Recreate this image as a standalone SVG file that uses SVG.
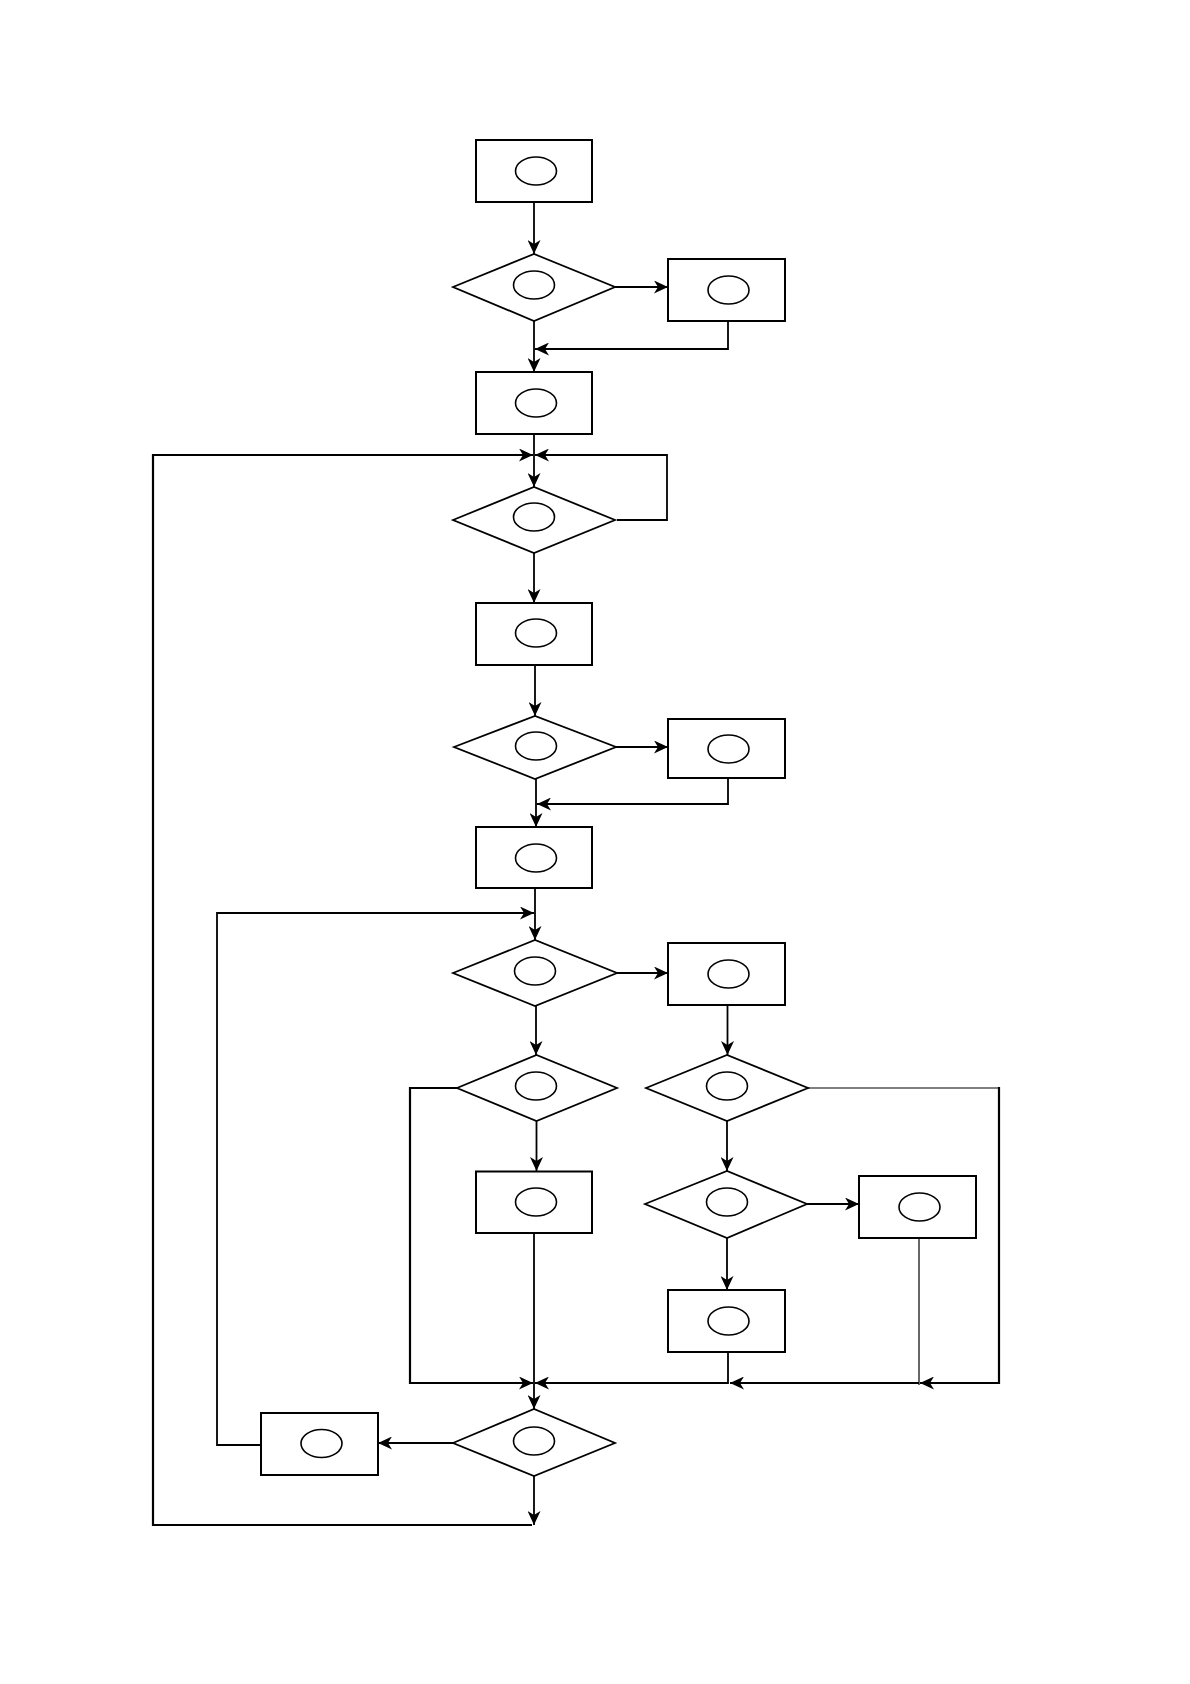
<svg xmlns="http://www.w3.org/2000/svg" width="1190" height="1684" viewBox="0 0 1190 1684">
<style>
.box{fill:#fff;stroke:#000;stroke-width:2}
.dec{fill:#fff;stroke:#000;stroke-width:1.8}
.ell{fill:none;stroke:#000;stroke-width:1.6}
.ln{fill:none;stroke:#000;stroke-width:1.8}
.thin{fill:none;stroke:#000;stroke-width:1.2}
</style>
<defs>
<marker id="ah" markerUnits="userSpaceOnUse" markerWidth="15" markerHeight="13" refX="14" refY="6.5" orient="auto">
<path d="M0,0 L14,6.5 L0,13 L4,6.5 z" fill="#000"/>
</marker>
</defs>
<rect width="1190" height="1684" fill="#fff"/>
<g id="connectors">
<line class="ln" x1="534" y1="202" x2="534" y2="254" marker-end="url(#ah)"/>
<line class="ln" x1="615" y1="287" x2="668" y2="287" marker-end="url(#ah)"/>
<line class="ln" x1="534" y1="321" x2="534" y2="372" marker-end="url(#ah)"/>
<polyline class="ln" points="728,321 728,349 535,349" marker-end="url(#ah)"/>
<line class="ln" x1="534" y1="434" x2="534" y2="487" marker-end="url(#ah)"/>
<line class="ln" x1="534" y1="1476" x2="534" y2="1525" marker-end="url(#ah)"/>
<polyline class="ln" points="532,1525 153,1525 153,455 533,455" style="stroke-width:2.2" marker-end="url(#ah)"/>
<polyline class="ln" points="617,520 667,520 667,455 535,455" marker-end="url(#ah)"/>
<line class="ln" x1="534" y1="553" x2="534" y2="603" marker-end="url(#ah)"/>
<line class="ln" x1="535" y1="665" x2="535" y2="716" marker-end="url(#ah)"/>
<line class="ln" x1="616" y1="747" x2="668" y2="747" marker-end="url(#ah)"/>
<line class="ln" x1="536" y1="779" x2="536" y2="827" marker-end="url(#ah)"/>
<polyline class="ln" points="728,778 728,804 537,804" marker-end="url(#ah)"/>
<line class="ln" x1="535" y1="888" x2="535" y2="940" marker-end="url(#ah)"/>
<polyline class="ln" points="261,1445 217,1445 217,913 534,913" marker-end="url(#ah)"/>
<line class="ln" x1="617" y1="973" x2="668" y2="973" marker-end="url(#ah)"/>
<line class="ln" x1="536" y1="1006" x2="536" y2="1055" marker-end="url(#ah)"/>
<line class="ln" x1="727.5" y1="1005" x2="727.5" y2="1055" marker-end="url(#ah)"/>
<polyline class="ln" points="457,1088 410,1088 410,1383 533,1383" style="stroke-width:2.2" marker-end="url(#ah)"/>
<line class="ln" x1="536.5" y1="1121" x2="536.5" y2="1171" marker-end="url(#ah)"/>
<line class="ln" x1="534" y1="1233" x2="534" y2="1409" marker-end="url(#ah)"/>
<line class="ln" x1="727" y1="1121" x2="727" y2="1171" marker-end="url(#ah)"/>
<line class="ln" x1="807" y1="1204" x2="859" y2="1204" marker-end="url(#ah)"/>
<line class="ln" x1="727" y1="1238" x2="727" y2="1290" marker-end="url(#ah)"/>
<polyline class="thin" points="808,1088 999,1088"/>
<polyline class="ln" points="999,1087 999,1383 920,1383" style="stroke-width:2.2" marker-end="url(#ah)"/>
<line class="thin" x1="919" y1="1238" x2="919" y2="1385"/>
<line class="ln" x1="919" y1="1383" x2="730" y2="1383" marker-end="url(#ah)"/>
<polyline class="ln" points="728,1352 728,1383 535,1383" marker-end="url(#ah)"/>
<line class="ln" x1="453" y1="1443" x2="378" y2="1443" marker-end="url(#ah)"/>
</g>
<g id="n1"><rect class="box" x="476" y="140" width="116" height="62"/><ellipse class="ell" cx="536" cy="171" rx="20.5" ry="14"/></g>
<g id="n2"><polygon class="dec" points="453,287 534,254 615,287 534,321"/><ellipse class="ell" cx="534" cy="285" rx="20.5" ry="14"/></g>
<g id="n3"><rect class="box" x="668" y="259" width="117" height="62"/><ellipse class="ell" cx="728.5" cy="290" rx="20.5" ry="14"/></g>
<g id="n4"><rect class="box" x="476" y="372" width="116" height="62"/><ellipse class="ell" cx="536" cy="403" rx="20.5" ry="14"/></g>
<g id="n5"><polygon class="dec" points="453,520 534,487 615,520 534,553"/><ellipse class="ell" cx="534" cy="517" rx="20.5" ry="14"/></g>
<g id="n6"><rect class="box" x="476" y="603" width="116" height="62"/><ellipse class="ell" cx="536" cy="633" rx="20.5" ry="14"/></g>
<g id="n7"><polygon class="dec" points="454,747 535,716 616,747 535,779"/><ellipse class="ell" cx="536" cy="746" rx="20.5" ry="14"/></g>
<g id="n8"><rect class="box" x="668" y="719" width="117" height="59"/><ellipse class="ell" cx="728.5" cy="749" rx="20.5" ry="14"/></g>
<g id="n9"><rect class="box" x="476" y="827" width="116" height="61"/><ellipse class="ell" cx="536" cy="858" rx="20.5" ry="14"/></g>
<g id="n10"><polygon class="dec" points="453,973 535,940 617,973 535,1006"/><ellipse class="ell" cx="535" cy="971" rx="20.5" ry="14"/></g>
<g id="n11"><rect class="box" x="668" y="943" width="117" height="62"/><ellipse class="ell" cx="728.5" cy="974" rx="20.5" ry="14"/></g>
<g id="n12"><polygon class="dec" points="457,1088 536.5,1055 617,1088 536.5,1121"/><ellipse class="ell" cx="536" cy="1086" rx="20.5" ry="14"/></g>
<g id="n13"><polygon class="dec" points="646,1088 727,1055 808,1088 727,1121"/><ellipse class="ell" cx="727" cy="1086" rx="20.5" ry="14"/></g>
<g id="n14"><rect class="box" x="476" y="1171.5" width="116" height="61.5"/><ellipse class="ell" cx="536" cy="1202" rx="20.5" ry="14"/></g>
<g id="n15"><polygon class="dec" points="645,1204 727,1171 807,1204 727,1238"/><ellipse class="ell" cx="727" cy="1202" rx="20.5" ry="14"/></g>
<g id="n16"><rect class="box" x="859" y="1176" width="117" height="62"/><ellipse class="ell" cx="919.5" cy="1207" rx="20.5" ry="14"/></g>
<g id="n17"><rect class="box" x="668" y="1290" width="117" height="62"/><ellipse class="ell" cx="728.5" cy="1321" rx="20.5" ry="14"/></g>
<g id="n18"><polygon class="dec" points="453,1443 534,1409 615,1443 534,1476"/><ellipse class="ell" cx="534" cy="1441" rx="20.5" ry="14"/></g>
<g id="n19"><rect class="box" x="261" y="1413" width="117" height="62"/><ellipse class="ell" cx="321.5" cy="1443.5" rx="20.5" ry="14"/></g>
</svg>
